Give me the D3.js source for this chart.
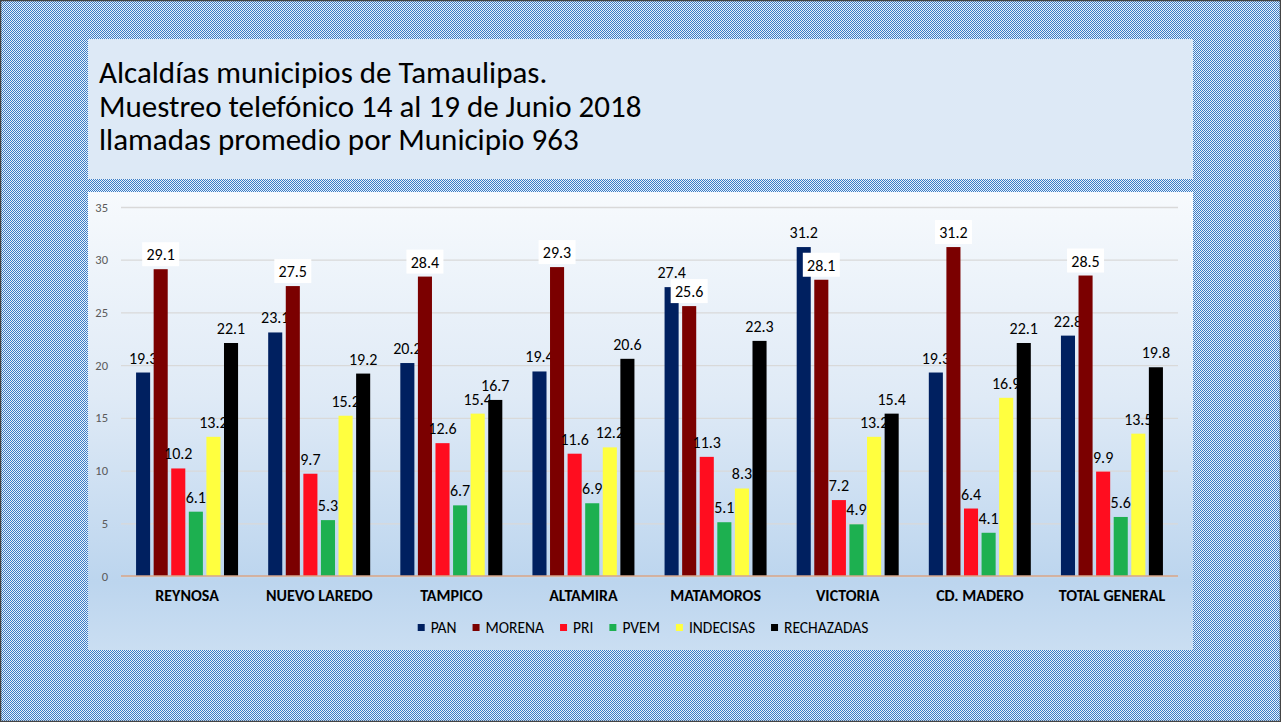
<!DOCTYPE html>
<html><head><meta charset="utf-8">
<script src="https://cdn.jsdelivr.net/npm/d3@7"></script>
<style>html,body{margin:0;padding:0;overflow:hidden;background:#fff}svg{display:block}</style>
</head><body>
<svg id="c" width="1281" height="722"></svg>
<script>
const categories = ["REYNOSA","NUEVO LAREDO","TAMPICO","ALTAMIRA","MATAMOROS","VICTORIA","CD. MADERO","TOTAL GENERAL"];
const seriesNames = ["PAN","MORENA","PRI","PVEM","INDECISAS","RECHAZADAS"];
const seriesColors = ["#002060","#7b0000","#ff0d1f","#1db050","#ffff3f","#000000"];
const PAN        = [19.3,23.1,20.2,19.4,27.4,31.2,19.3,22.8];
const MORENA     = [29.1,27.5,28.4,29.3,25.6,28.1,31.2,28.5];
const PRI        = [10.2,9.7,12.6,11.6,11.3,7.2,6.4,9.9];
const PVEM       = [6.1,5.3,6.7,6.9,5.1,4.9,4.1,5.6];
const INDECISAS  = [13.2,15.2,15.4,12.2,8.3,13.2,16.9,13.5];
const RECHAZADAS = [22.1,19.2,16.7,20.6,22.3,15.4,22.1,19.8];
const yTicks = [0,5,10,15,20,25,30,35];
const titleLines = ["Alcaldías municipios de Tamaulipas.","Muestreo telefónico 14 al 19 de Junio 2018","llamadas promedio por Municipio 963"];
const seriesValues = [PAN,MORENA,PRI,PVEM,INDECISAS,RECHAZADAS];
const boxedSeries = ["MORENA"];

const FONT = "Carlito, Lato, 'Open Sans', sans-serif";
const svg = d3.select("#c");
const defs = svg.append("defs");
const pat = defs.append("pattern").attr("id","chk").attr("width",2).attr("height",2).attr("patternUnits","userSpaceOnUse");
pat.append("rect").attr("width",2).attr("height",2).attr("fill","#eaf2fb");
pat.append("rect").attr("x",0).attr("y",0).attr("width",1).attr("height",1).attr("fill","#3a7cc6");
pat.append("rect").attr("x",1).attr("y",1).attr("width",1).attr("height",1).attr("fill","#3a7cc6");
const grad = defs.append("linearGradient").attr("id","bg").attr("x1",0).attr("y1",0).attr("x2",0).attr("y2",1);
[[0,"#f7fafd"],[0.45,"#dfeaf6"],[0.85,"#bcd5ee"],[1,"#cadef2"]].forEach(s=>grad.append("stop").attr("offset",s[0]).attr("stop-color",s[1]));

svg.append("rect").attr("width",1281).attr("height",722).attr("fill","url(#chk)");
svg.append("rect").attr("x",0.5).attr("y",0.5).attr("width",1280).attr("height",721).attr("fill","none").attr("stroke","#444").attr("stroke-width",1.5);

// title box
svg.append("rect").attr("x",88).attr("y",39).attr("width",1105).attr("height",140).attr("fill","#dde9f6");
svg.append("g").selectAll("text").data(titleLines).join("text")
  .attr("x",99).attr("y",(d,i)=>83+i*33.5).attr("font-family",FONT).attr("font-size",31).attr("fill","#000").text(d=>d);

// chart box
svg.append("rect").attr("x",88).attr("y",192).attr("width",1105).attr("height",458).attr("fill","url(#bg)");

const x0 = d3.scaleBand().domain(categories).range([121,1178]).padding(0);
const bw = x0.bandwidth();
const x1 = d3.scaleBand().domain(seriesNames).range([bw*0.114, bw*0.886]).paddingInner(0.2);
const y = d3.scaleLinear().domain([0,35]).range([576,207]);

// gridlines + y axis
const yAxis = d3.axisLeft(y).tickValues(yTicks).tickSize(-(1178-121)).tickPadding(13);
const ga = svg.append("g").attr("transform","translate(121,0)").call(yAxis);
ga.select(".domain").remove();
ga.selectAll(".tick line").attr("stroke","#d9d9d9").attr("stroke-width",1.3);
ga.selectAll(".tick text").attr("font-family",FONT).attr("font-size",12.5).attr("fill","#595959");

// bars + labels, series by series
const gm = svg.append("g");
seriesNames.forEach((s,si)=>{
  const rows = categories.map((c,ci)=>({c,s,si,v:seriesValues[si][ci]}));
  const g = gm.append("g");
  g.selectAll("rect.bar").data(rows).join("rect").attr("class","bar")
    .attr("x",d=>x0(d.c)+x1(d.s)).attr("width",x1.bandwidth())
    .attr("y",d=>y(d.v)).attr("height",d=>y(0)-y(d.v))
    .attr("fill",seriesColors[si]);
  if (boxedSeries.includes(s)) {
    g.selectAll("rect.box").data(rows).join("rect").attr("class","box")
      .attr("x",d=>x0(d.c)+x1(d.s)+x1.bandwidth()/2-18.5).attr("y",d=>y(d.v)-27)
      .attr("width",37).attr("height",24).attr("fill","#fff");
  }
  g.selectAll("text").data(rows).join("text")
    .attr("x",d=>x0(d.c)+x1(d.s)+x1.bandwidth()/2).attr("y",d=>y(d.v)-9)
    .attr("text-anchor","middle").attr("font-family",FONT).attr("font-size",16)
    .attr("fill","#000").text(d=>d.v.toFixed(1));
});

// baseline
svg.append("line").attr("x1",121).attr("x2",1178).attr("y1",y(0)).attr("y2",y(0)).attr("stroke","#d4a58a").attr("stroke-width",1.5);

// category labels
const xAxis = d3.axisBottom(x0).tickSize(0).tickPadding(14);
const gx = svg.append("g").attr("transform",`translate(0,${y(0)})`).call(xAxis);
gx.select(".domain").remove();
gx.selectAll(".tick text").attr("font-family",FONT).attr("font-size",16).attr("font-weight","bold").attr("fill","#000");

// legend
const lg = svg.append("g");
let cur = 0;
const GAP = 16;
seriesNames.forEach((s,i)=>{
  const g = lg.append("g");
  g.append("rect").attr("x",0).attr("y",-4).attr("width",7).attr("height",7).attr("fill",seriesColors[i]);
  const t = g.append("text").attr("x",13).attr("y",5).attr("font-family",FONT).attr("font-size",15.5).attr("fill","#000").text(s);
  const w = 13 + t.node().getComputedTextLength();
  g.attr("transform",`translate(${cur},0)`);
  cur += w + GAP;
});
const totalW = cur - GAP;
lg.attr("transform",`translate(${643-totalW/2},628)`);
</script>
</body></html>
